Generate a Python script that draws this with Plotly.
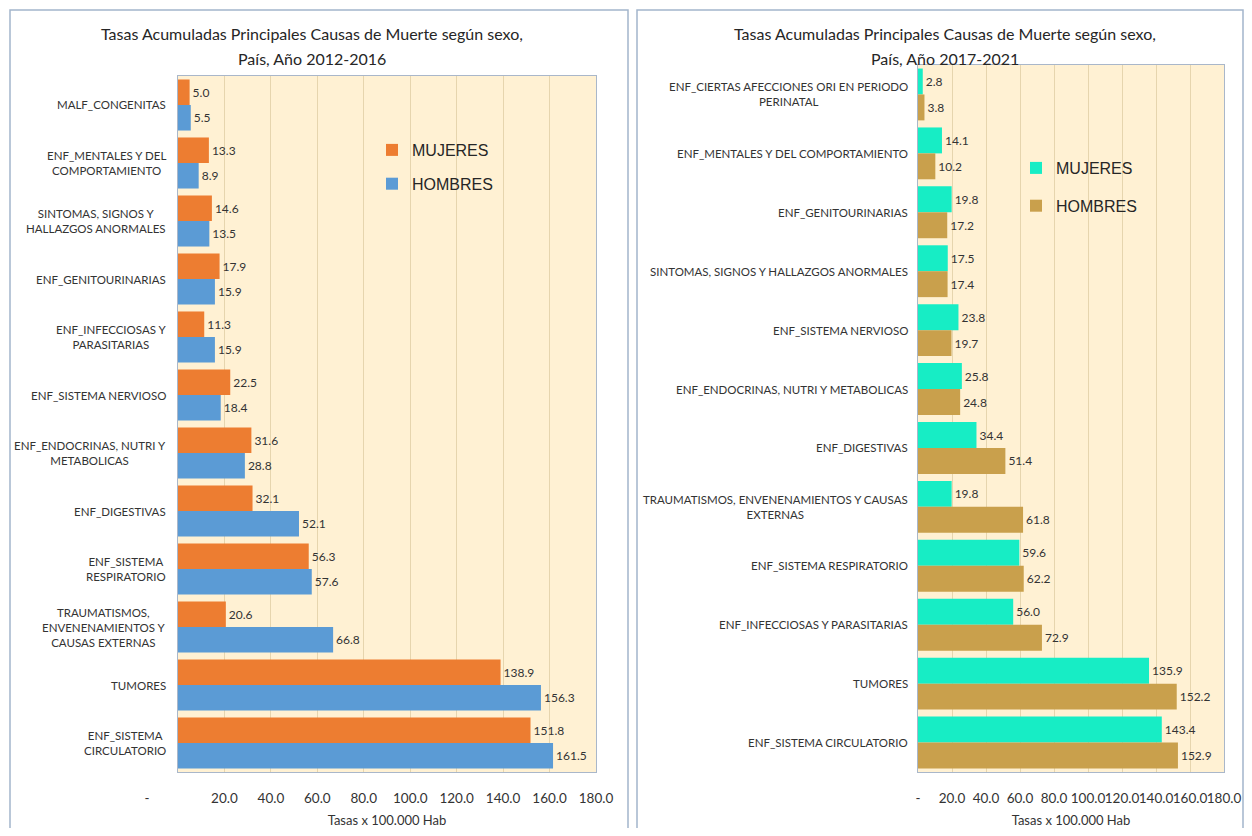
"""Tasas acumuladas principales causas de muerte segun sexo, 2012-2016 vs 2017-2021."""

import plotly.graph_objects as go
from plotly.subplots import make_subplots

# page body keeps an 8px margin, so the figure is drawn 16px smaller
W, H = 1236, 820
OFF = 8

# 2012-2016 (top to bottom as shown)
causas_1216 = [
    "MALF_CONGENITAS",
    "ENF_MENTALES Y DEL<br>COMPORTAMIENTO",
    "SINTOMAS, SIGNOS Y<br>HALLAZGOS ANORMALES",
    "ENF_GENITOURINARIAS",
    "ENF_INFECCIOSAS Y<br>PARASITARIAS",
    "ENF_SISTEMA NERVIOSO",
    "ENF_ENDOCRINAS, NUTRI Y<br>METABOLICAS",
    "ENF_DIGESTIVAS",
    "ENF_SISTEMA<br>RESPIRATORIO",
    "TRAUMATISMOS,<br>ENVENENAMIENTOS Y<br>CAUSAS EXTERNAS",
    "TUMORES",
    "ENF_SISTEMA<br>CIRCULATORIO",
]
mujeres_1216 = [5.0, 13.3, 14.6, 17.9, 11.3, 22.5, 31.6, 32.1, 56.3, 20.6, 138.9, 151.8]
hombres_1216 = [5.5, 8.9, 13.5, 15.9, 15.9, 18.4, 28.8, 52.1, 57.6, 66.8, 156.3, 161.5]

# 2017-2021 (top to bottom as shown)
causas_1721 = [
    "ENF_CIERTAS AFECCIONES ORI EN PERIODO<br>PERINATAL",
    "ENF_MENTALES Y DEL COMPORTAMIENTO",
    "ENF_GENITOURINARIAS",
    "SINTOMAS, SIGNOS Y HALLAZGOS ANORMALES",
    "ENF_SISTEMA NERVIOSO",
    "ENF_ENDOCRINAS, NUTRI Y METABOLICAS",
    "ENF_DIGESTIVAS",
    "TRAUMATISMOS, ENVENENAMIENTOS Y CAUSAS<br>EXTERNAS",
    "ENF_SISTEMA RESPIRATORIO",
    "ENF_INFECCIOSAS Y PARASITARIAS",
    "TUMORES",
    "ENF_SISTEMA CIRCULATORIO",
]
mujeres_1721 = [2.8, 14.1, 19.8, 17.5, 23.8, 25.8, 34.4, 19.8, 59.6, 56.0, 135.9, 143.4]
hombres_1721 = [3.8, 10.2, 17.2, 17.4, 19.7, 24.8, 51.4, 61.8, 62.2, 72.9, 152.2, 152.9]

tick_vals = [0, 20, 40, 60, 80, 100, 120, 140, 160, 180]
tick_text = ["-", "20.0", "40.0", "60.0", "80.0", "100.0", "120.0", "140.0", "160.0", "180.0"]

FONT = "Lato"
TXT = "#333333"
COLORS = {
    "left": ("#ED7D31", "#5B9BD5"),
    "right": ("#17EDC5", "#C9A04C"),
}


def px(x):
    # reference pixel -> paper fraction
    return (x - OFF) / W


def py(y):
    return 1 - (y - OFF) / H


fig = make_subplots(rows=1, cols=2)

panels = [
    (1, causas_1216, mujeres_1216, hombres_1216, COLORS["left"], "legend"),
    (2, causas_1721, mujeres_1721, hombres_1721, COLORS["right"], "legend2"),
]
for col, cats, muj, hom, (c_m, c_h), leg in panels:
    for name, vals, color in (("MUJERES", muj, c_m), ("HOMBRES", hom, c_h)):
        fig.add_trace(
            go.Bar(
                y=cats,
                x=vals,
                name=name,
                orientation="h",
                marker=dict(color=color, line=dict(width=0)),
                text=[f"{v:.1f}" for v in vals],
                textposition="outside",
                textfont=dict(family=FONT, size=12, color=TXT),
                cliponaxis=False,
                legend=leg,
                legendgroup=f"{leg}-{name}",
            ),
            row=1,
            col=col,
        )

axis_common = dict(
    range=[0, 180],
    tickvals=tick_vals,
    automargin=False,
    showgrid=True,
    gridcolor="#E6D5AE",
    gridwidth=1,
    zeroline=False,
    showline=True,
    mirror=True,
    linecolor="#A9B7CA",
    linewidth=1,
    ticks="",
    tickangle=0,
    ticklabelstandoff=14,
    tickfont=dict(family=FONT, size=13.5, color=TXT),
    title=dict(text="Tasas x 100.000 Hab", font=dict(family=FONT, size=13, color=TXT), standoff=12),
)
left_ticks = ["-" + "\u00a0" * 18] + tick_text[1:]
fig.update_xaxes(axis_common, ticktext=left_ticks, domain=[px(178), px(596)], row=1, col=1)
fig.update_xaxes(axis_common, ticktext=tick_text, domain=[px(918), px(1224)], row=1, col=2)

yaxis_common = dict(
    autorange="reversed",
    automargin=False,
    showticklabels=False,
    showgrid=False,
    zeroline=False,
    showline=True,
    mirror=True,
    linecolor="#A9B7CA",
    ticks="",
)
fig.update_yaxes(yaxis_common, domain=[py(772), py(76)], row=1, col=1)
fig.update_yaxes(yaxis_common, domain=[py(772), py(65)], row=1, col=2)

# category labels, centered multi-line, right edge next to the axis
for cats, yref, xr in ((causas_1216, "y", 168), (causas_1721, "y2", 910)):
    for c in cats:
        fig.add_annotation(
            x=px(xr), xref="paper", xanchor="right",
            y=c, yref=yref, yanchor="middle",
            text=c, showarrow=False, align="center",
            font=dict(family=FONT, size=11.5, color=TXT),
        )

# titles
titles = [
    (312, "Tasas Acumuladas Principales Causas de Muerte según sexo,", "País, Año 2012-2016"),
    (945, "Tasas Acumuladas Principales Causas de Muerte según sexo,", "País, Año 2017-2021"),
]
for xc, l1, l2 in titles:
    for yc, t in ((33, l1), (58, l2)):
        fig.add_annotation(
            x=px(xc), y=py(yc), xref="paper", yref="paper",
            xanchor="center", yanchor="middle", text=t, showarrow=False,
            font=dict(family=FONT, size=16, color="#262626"),
        )

# panel frames
for x0, x1 in ((10, 628), (637, 1243)):
    fig.add_shape(
        type="rect", xref="paper", yref="paper",
        x0=px(x0), x1=px(x1), y0=-0.05, y1=py(10),
        line=dict(color="#A3B5CC", width=1.5), fillcolor="rgba(0,0,0,0)", layer="below",
    )

legend_common = dict(
    bgcolor="rgba(0,0,0,0)",
    font=dict(family="Liberation Sans", size=16, color="#262626"),
    traceorder="grouped",
    tracegroupgap=10,
    itemwidth=30,
    xanchor="left",
    yanchor="top",
)
fig.update_layout(
    width=W,
    height=H,
    margin=dict(l=0, r=0, t=0, b=0),
    paper_bgcolor="white",
    plot_bgcolor="#FFF1D3",
    barmode="group",
    bargap=0.12,
    bargroupgap=0,
    showlegend=True,
    legend=dict(legend_common, x=px(372), y=py(133)),
    legend2=dict(legend_common, x=px(1016), y=py(151), tracegroupgap=14),
)

fig.write_html("out.html")
